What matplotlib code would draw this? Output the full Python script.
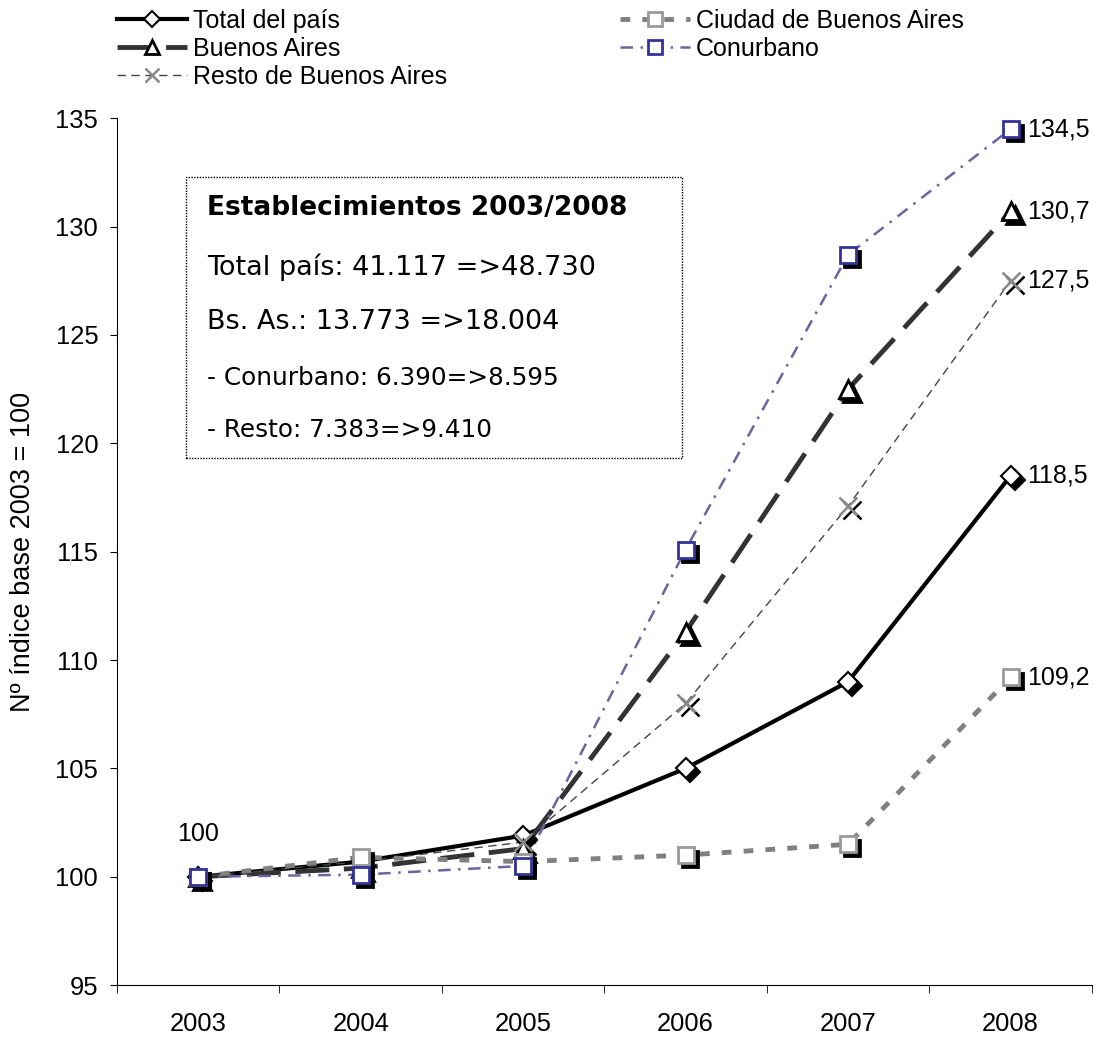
import matplotlib
matplotlib.use('Agg')
import matplotlib.pyplot as plt
from matplotlib.transforms import offset_copy
from matplotlib.patches import Rectangle

plt.rcParams['font.family'] = ['Liberation Sans', 'DejaVu Sans']

# data
years = ['2003', '2004', '2005', '2006', '2007', '2008']
total = [100, 100.7, 101.9, 105.0, 109.0, 118.5]
ciudad = [100, 100.9, 100.7, 101.0, 101.5, 109.2]
bsas = [100, 100.4, 101.3, 111.3, 122.5, 130.7]
conurbano = [100, 100.1, 100.5, 115.1, 128.7, 134.5]
resto = [100, 100.7, 101.6, 108.0, 117.1, 127.5]

box_title = 'Establecimientos 2003/2008'
box_lines = ['Total país: 41.117 =>48.730',
             'Bs. As.: 13.773 =>18.004',
             '- Conurbano: 6.390=>8.595',
             '- Resto: 7.383=>9.410']

fig = plt.figure(figsize=(11.09, 10.37), dpi=100)
ax = fig.add_axes([0.1055, 0.05, 0.879, 0.836])

x = list(range(len(years)))
shadow = offset_copy(ax.transData, fig=fig, x=4, y=-4, units='dots')

series = [
    # label, values, line kwargs, marker kwargs
    ('Total del país', total,
     dict(color='black', lw=3, ls='-'),
     dict(marker='D', ms=10, mfc='white', mec='black', mew=1.5)),
    ('Buenos Aires', bsas,
     dict(color='#333333', lw=3.5, ls=(0, (7, 3))),
     dict(marker='^', ms=13, mfc='white', mec='black', mew=2)),
    ('Resto de Buenos Aires', resto,
     dict(color='#444444', lw=1, ls=(0, (6, 4))),
     dict(marker='x', ms=13, mfc='none', mec='#888888', mew=1.8)),
    ('Ciudad de Buenos Aires', ciudad,
     dict(color='#808080', lw=3.5, ls=(0, (2, 2.5))),
     dict(marker='s', ms=12, mfc='white', mec='#999999', mew=2)),
    ('Conurbano', conurbano,
     dict(color='#6666a0', lw=1.8, ls=(0, (5, 3, 1, 3))),
     dict(marker='s', ms=12, mfc='white', mec='#333399', mew=2)),
]

handles = []
for label, vals, lk, mk in series:
    ax.plot(x, vals, zorder=2, **lk)
    # black shadow behind the markers
    if mk['marker'] == 'x':
        ax.plot(x, vals, ls='none', marker='x', ms=mk['ms'], color='black',
                mew=1.8, transform=shadow, zorder=3)
    else:
        ax.plot(x, vals, ls='none', marker=mk['marker'], ms=mk['ms'],
                mfc='black', mec='black', mew=mk['mew'], transform=shadow, zorder=3)
    ax.plot(x, vals, ls='none', zorder=4, **mk)
    mk_leg = dict(mk, ms=mk['ms'] * 0.8)
    h, = ax.plot([], [], label=label, **lk, **mk_leg)
    handles.append(h)

for vals in [conurbano, bsas, resto, total, ciudad]:
    ax.annotate(f'{vals[-1]:.1f}'.replace('.', ','), (x[-1], vals[-1]),
                xytext=(12, 0), textcoords='offset points', va='center',
                ha='left', fontsize=18)
ax.annotate('100', (x[0], total[0]), xytext=(0, 31), textcoords='offset points',
            ha='center', va='center', fontsize=18)

ax.set_xlim(-0.5, len(years) - 0.5)
ax.set_ylim(95, 135)
ax.set_yticks(range(95, 136, 5))
ax.set_xticks(x)
ax.set_xticklabels(years)
ax.set_xticks([i - 0.5 for i in range(len(years) + 1)], minor=True)
ax.tick_params(axis='x', which='major', length=0, pad=19, labelsize=18.4)
ax.tick_params(axis='x', which='minor', length=6, direction='out')
ax.tick_params(axis='y', length=5, labelsize=18.4, pad=8.5)
for s in ['top', 'right']:
    ax.spines[s].set_visible(False)
ax.set_ylabel('Nº índice base 2003 = 100', fontsize=19.5, labelpad=14)

# info box
ax.add_patch(Rectangle((0.071, 0.608), 0.509, 0.324, transform=ax.transAxes,
                       fill=False, ls=(0, (1, 1)), lw=1, edgecolor='black', zorder=5))
ax.text(0.092, 0.896, box_title, transform=ax.transAxes,
        family='DejaVu Sans', fontweight='bold', fontsize=19, va='center')
ys = [0.828, 0.765, 0.700, 0.640]
sizes = [19.5, 19.5, 17.8, 17.8]
for t, yy, fs in zip(box_lines, ys, sizes):
    ax.text(0.092, yy, t, transform=ax.transAxes, family='DejaVu Sans',
            fontsize=fs, va='center')

fig.legend(handles=handles, ncol=2, loc='upper left',
           bbox_to_anchor=(117 / 1109, 1 - 9 / 1037),
           frameon=False, fontsize=18, handlelength=2.8, handletextpad=0.25,
           labelspacing=0.15, columnspacing=6.9, borderaxespad=0, borderpad=0)

plt.savefig('out.png', dpi=100)
